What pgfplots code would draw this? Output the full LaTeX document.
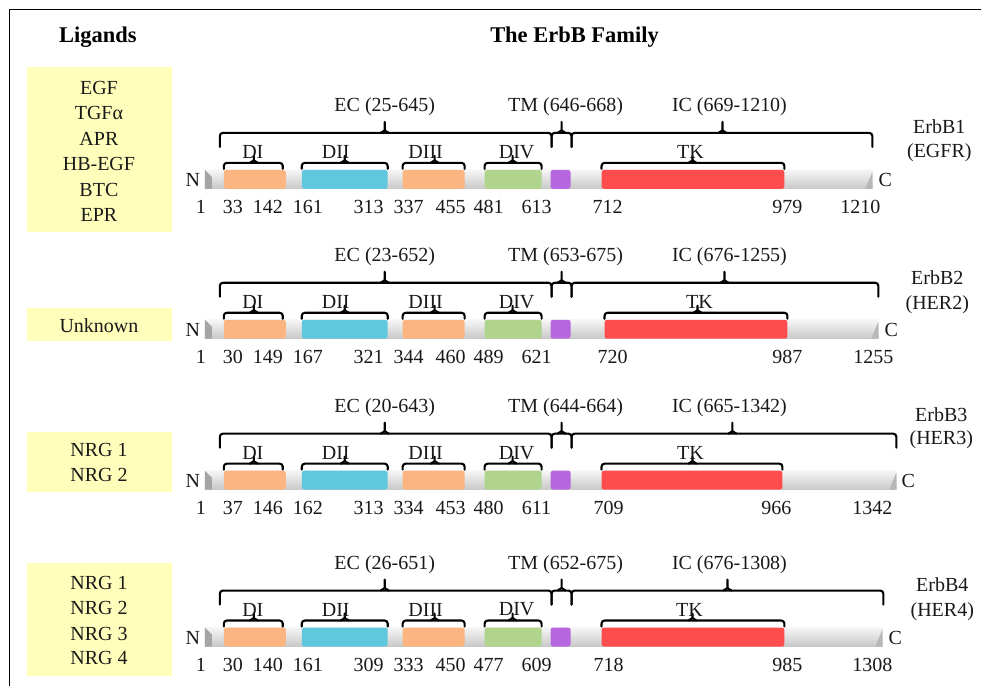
\documentclass[border=0pt]{standalone}
\usepackage{pgfplots}
\pgfplotsset{compat=1.18}
\usepackage{fontspec}
\setmainfont{Liberation Serif}
\definecolor{orng}{RGB}{252,180,128}
\definecolor{cyn}{RGB}{95,200,222}
\definecolor{grn}{RGB}{176,212,140}
\definecolor{prp}{RGB}{182,102,222}
\definecolor{tkred}{RGB}{255,77,77}
\definecolor{ylw}{RGB}{255,255,187}
\definecolor{barhi}{RGB}{246,246,246}
\definecolor{barlo}{RGB}{200,200,200}
\definecolor{bardk}{RGB}{165,165,165}
\definecolor{txt}{RGB}{25,25,25}
\tikzset{
  bk/.style={black, line width=2.1pt, line cap=round, line join=round},
  t/.style={font=\fontsize{20}{24}\selectfont, inner sep=0pt, text=txt, anchor=center},
  tb/.style={font=\fontsize{22.5}{27}\selectfont\bfseries, inner sep=0pt, text=black, anchor=center},
}
% one protein bar: #1 centre y, #2 bar end x, #3 TK start, #4 TK end
\newcommand{\protein}[4]{%
  \pgfmathsetmacro{\ytop}{#1-10}%
  \pgfmathsetmacro{\ybot}{#1+9}%
  \pgfmathsetmacro{\ymid}{#1-3}%
  \pgfmathsetmacro{\yrt}{#1-8}%
  \pgfmathsetmacro{\xre}{#2-7}%
  \addplot[draw=none, top color=barhi, bottom color=barlo] coordinates {(205,\ytop)(#2,\ytop)(#2,\ybot)(205,\ybot)} -- cycle;
  \addplot[draw=none, fill=bardk] coordinates {(205,\ytop)(212,\ymid)(212,\ybot)(205,\ybot)} -- cycle;
  \addplot[draw=none, fill=bardk!80] coordinates {(\xre,\ybot)(#2,\yrt)(#2,\ybot)} -- cycle;
  \dom{224}{286}{orng}\dom{302}{388}{cyn}\dom{403}{465}{orng}\dom{485}{542}{grn}\dom{551}{571}{prp}\dom{#3}{#4}{tkred}%
}
\newcommand{\dom}[3]{\addplot[fill=#3, draw=none, rounded corners=2.5pt] coordinates {(#1,\ytop)(#2,\ytop)(#2,\ybot)(#1,\ybot)} -- cycle;}
% bracket: #1 left x, #2 tip x, #3 right x, #4 line y, #5 drop, #6 tip height
\newcommand{\brk}[6]{%
  \pgfmathsetmacro{\bya}{#4+#5}%
  \pgfmathsetmacro{\byt}{#4-#6}%
  \pgfmathsetmacro{\bxl}{#2-4}%
  \pgfmathsetmacro{\bxr}{#2+4}%
  \pgfmathsetmacro{\byb}{#4-2.5}%
  \addplot[bk, rounded corners=3pt] coordinates {(#1,\bya)(#1,#4)(#3,#4)(#3,\bya)};
  \addplot[bk] coordinates {(\bxl,#4)(#2,\byb)(#2,\byt)};
  \addplot[bk] coordinates {(\bxr,#4)(#2,\byb)};
}
% all brackets of one row: #1 big line y, #2 sub line y, #3 TK start, #4 TK tip, #5 TK end, #6 IC tip, #7 IC end
\newcommand{\brackets}[7]{%
  \brk{220}{385}{552}{#1}{14}{11}%
  \brk{552}{562}{572}{#1}{14}{11}%
  \brk{572}{#6}{#7}{#1}{14}{11}%
  \brk{224}{254}{283}{#2}{6}{7}%
  \brk{302}{345}{388}{#2}{6}{7}%
  \brk{403}{435}{465}{#2}{6}{7}%
  \brk{485}{513}{542}{#2}{6}{7}%
  \brk{#3}{#4}{#5}{#2}{6}{7}%
}
% texts of one row: #1 centre y, #2..#4 EC TM IC labels, #5 TK text x, #6 C x
\newcommand{\rowtext}[6]{%
  \node[t] at (axis cs:385,#1) [yshift=73pt] {#2};
  \node[t] at (axis cs:566,#1) [yshift=73pt] {#3};
  \node[t] at (axis cs:730,#1) [yshift=73pt] {#4};
  \node[t] at (axis cs:253,#1) [yshift=28pt] {DI};
  \node[t] at (axis cs:336,#1) [yshift=28pt] {DII};
  \node[t] at (axis cs:426,#1) [yshift=28pt] {DIII};
  \node[t] at (axis cs:517,#1) [yshift=28pt] {DIV};
  \node[t] at (axis cs:#5,#1) [yshift=28pt] {TK};
  \node[t] at (axis cs:193,#1) {N};
  \node[t] at (axis cs:#6,#1) {C};
}
% residue numbers: #1 centre y, then the numbers
\newcommand{\numsA}[9]{%
  \node[t] at (axis cs:201,#1) [yshift=-27pt] {#2};
  \node[t] at (axis cs:233,#1) [yshift=-27pt] {#3};
  \node[t] at (axis cs:268,#1) [yshift=-27pt] {#4};
  \node[t] at (axis cs:308,#1) [yshift=-27pt] {#5};
  \node[t] at (axis cs:369,#1) [yshift=-27pt] {#6};
  \node[t] at (axis cs:409,#1) [yshift=-27pt] {#7};
  \node[t] at (axis cs:451,#1) [yshift=-27pt] {#8};
  \node[t] at (axis cs:489,#1) [yshift=-27pt] {#9};
}
% #1 centre y, #2 DIV end, #3/#4 TK start x/text, #5/#6 TK end x/text, #7/#8 end x/text
\newcommand{\numsB}[8]{%
  \node[t] at (axis cs:537,#1) [yshift=-27pt] {#2};
  \node[t] at (axis cs:#3,#1) [yshift=-27pt] {#4};
  \node[t] at (axis cs:#5,#1) [yshift=-27pt] {#6};
  \node[t] at (axis cs:#7,#1) [yshift=-27pt] {#8};
}
\begin{document}
\begin{tikzpicture}
\begin{axis}[
  width=982pt, height=687pt, scale only axis,
  xmin=0, xmax=982, ymin=0, ymax=687, y dir=reverse,
  axis lines=none, clip=false,
]
\addplot[fill=white, draw=none] coordinates {(0,0)(982,0)(982,687)(0,687)} -- cycle;
\addplot[black, line width=1.5pt] coordinates {(9.5,687)(9.5,9.5)(982,9.5)};

% ligand boxes
\addplot[fill=ylw, draw=none] coordinates {(27,67)(172,67)(172,232)(27,232)} -- cycle;
\addplot[fill=ylw, draw=none] coordinates {(27,308)(172,308)(172,341)(27,341)} -- cycle;
\addplot[fill=ylw, draw=none] coordinates {(27,432)(172,432)(172,492)(27,492)} -- cycle;
\addplot[fill=ylw, draw=none] coordinates {(27,563)(172,563)(172,677)(27,677)} -- cycle;

% proteins
\protein{180}{873}{602}{785}
\protein{330}{879}{605}{788}
\protein{481}{897}{602}{783}
\protein{638}{883}{602}{785}

\brackets{133}{163}{602}{693}{785}{723}{873}
\brackets{283}{313}{605}{698}{788}{725}{879}
\brackets{434}{464}{602}{693}{783}{733}{897}
\brackets{591}{621}{602}{693}{785}{728}{884}

% headings
\node[tb] at (axis cs:98,37) {Ligands};
\node[tb] at (axis cs:575,37) {The ErbB Family};

% ligand texts
\node[t] at (axis cs:99,88) {EGF};
\node[t] at (axis cs:99,113) {TGFα};
\node[t] at (axis cs:99,139) {APR};
\node[t] at (axis cs:99,164) {HB-EGF};
\node[t] at (axis cs:99,190) {BTC};
\node[t] at (axis cs:99,215) {EPR};
\node[t] at (axis cs:99,326) {Unknown};
\node[t] at (axis cs:99,450) {NRG 1};
\node[t] at (axis cs:99,475) {NRG 2};
\node[t] at (axis cs:99,583) {NRG 1};
\node[t] at (axis cs:99,608) {NRG 2};
\node[t] at (axis cs:99,634) {NRG 3};
\node[t] at (axis cs:99,658) {NRG 4};

% row texts
\rowtext{180}{EC (25-645)}{TM (646-668)}{IC (669-1210)}{691}{886}
\rowtext{330}{EC (23-652)}{TM (653-675)}{IC (676-1255)}{700}{892}
\rowtext{481}{EC (20-643)}{TM (644-664)}{IC (665-1342)}{691}{909}
\rowtext{638}{EC (26-651)}{TM (652-675)}{IC (676-1308)}{690}{896}

\numsA{180}{1}{33}{142}{161}{313}{337}{455}{481}
\numsB{180}{613}{608}{712}{788}{979}{861}{1210}
\numsA{330}{1}{30}{149}{167}{321}{344}{460}{489}
\numsB{330}{621}{613}{720}{788}{987}{874}{1255}
\numsA{481}{1}{37}{146}{162}{313}{334}{453}{480}
\numsB{481}{611}{609}{709}{777}{966}{873}{1342}
\numsA{638}{1}{30}{140}{161}{309}{333}{450}{477}
\numsB{638}{609}{609}{718}{788}{985}{873}{1308}

% receptor names
\node[t] at (axis cs:940,127) {ErbB1};
\node[t] at (axis cs:940,153) {(EGFR)};
\node[t] at (axis cs:938,278) {ErbB2};
\node[t] at (axis cs:938,305) {(HER2)};
\node[t] at (axis cs:942,415) {ErbB3};
\node[t] at (axis cs:942,440) {(HER3)};
\node[t] at (axis cs:943,585) {ErbB4};
\node[t] at (axis cs:943,612) {(HER4)};
\end{axis}
\end{tikzpicture}
\end{document}
